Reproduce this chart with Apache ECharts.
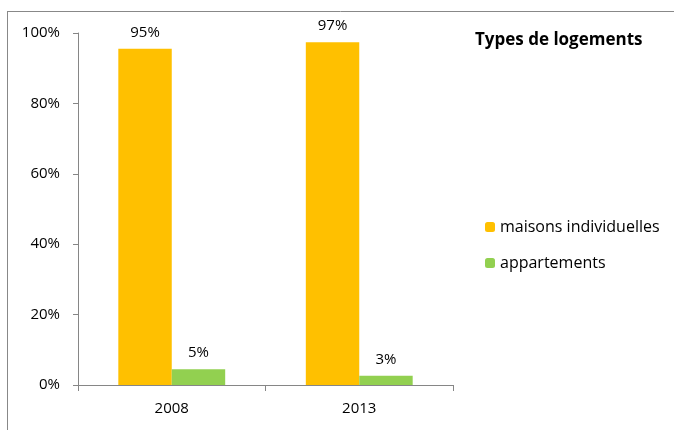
<!DOCTYPE html>
<html>
<head>
<meta charset="utf-8">
<script src="https://cdn.jsdelivr.net/npm/echarts@6/dist/echarts.min.js"></script>
<style>html,body{margin:0;padding:0;background:#fff;}#c{width:674px;height:430px;}</style>
</head>
<body>
<div id="c"></div>
<script>
const categories = ['2008', '2013'];
const maisons = [95.5, 97.4];
const appartements = [4.5, 2.6];
const maisonsLabels = ['95%', '97%'];
const appartementsLabels = ['5%', '3%'];
const yTicks = [0, 20, 40, 60, 80, 100];

const FONT = 'Open Sans';
const chart = echarts.init(document.getElementById('c'), null, {renderer: 'canvas'});
chart.setOption({
  backgroundColor: '#ffffff',
  animation: false,
  textStyle: {fontFamily: FONT},
  title: {
    text: 'Types de logements',
    left: 470, top: 27,
    textStyle: {fontFamily: FONT, fontSize: 17, fontWeight: 'bold', color: '#000'}
  },
  legend: {
    orient: 'vertical',
    left: 480, top: 214,
    itemWidth: 10, itemHeight: 10, itemGap: 20,
    textStyle: {fontFamily: FONT, fontSize: 16, color: '#000'},
    data: ['maisons individuelles', 'appartements']
  },
  grid: {left: 78, right: 221, top: 33, bottom: 45},
  xAxis: {
    type: 'category',
    data: categories,
    axisLine: {lineStyle: {color: '#868686'}},
    axisTick: {show: true, length: 6, lineStyle: {color: '#868686'}},
    axisLabel: {color: '#000', fontSize: 15, fontFamily: FONT, margin: 16}
  },
  yAxis: {
    type: 'value',
    min: yTicks[0], max: yTicks[yTicks.length - 1], interval: 20,
    axisLine: {show: true, lineStyle: {color: '#868686'}},
    axisTick: {show: true, length: 5, lineStyle: {color: '#868686'}},
    splitLine: {show: false},
    axisLabel: {color: '#000', fontSize: 15, fontFamily: FONT, margin: 18, formatter: v => v + '%'}
  },
  series: [
    {
      name: 'maisons individuelles', type: 'bar', data: maisons,
      itemStyle: {color: '#FFC000'},
      barGap: '0%', barCategoryGap: '43%',
      label: {show: true, position: 'top', distance: 9, color: '#000', fontSize: 15, fontFamily: FONT,
        formatter: p => maisonsLabels[p.dataIndex]}
    },
    {
      name: 'appartements', type: 'bar', data: appartements,
      itemStyle: {color: '#92D050'},
      barGap: '0%', barCategoryGap: '43%',
      label: {show: true, position: 'top', distance: 9, color: '#000', fontSize: 15, fontFamily: FONT,
        formatter: p => appartementsLabels[p.dataIndex]}
    }
  ],
  graphic: [
    {type: 'line', shape: {x1: 7, y1: 11.5, x2: 674, y2: 11.5}, style: {stroke: '#888', lineWidth: 1}, silent: true},
    {type: 'line', shape: {x1: 7.5, y1: 11, x2: 7.5, y2: 430}, style: {stroke: '#888', lineWidth: 1}, silent: true}
  ]
});
</script>
</body>
</html>
